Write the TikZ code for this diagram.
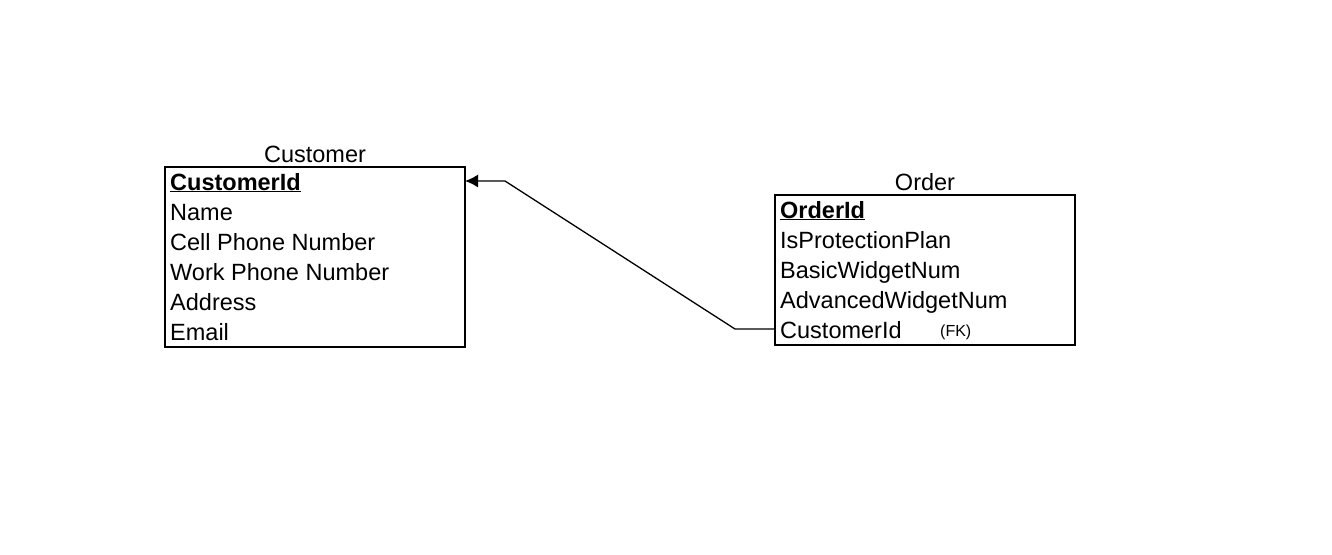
\documentclass[tikz,border=0pt]{standalone}
\usepackage{fontspec}
\setmainfont{Liberation Sans}
\usetikzlibrary{arrows.meta}
\tikzset{
  field/.style={anchor=base west, inner sep=0pt, font=\fontsize{23.5}{28}\selectfont},
  title/.style={anchor=base, inner sep=0pt, font=\fontsize{23.5}{28}\selectfont},
  tbl/.style={draw, line width=1.3pt},
  fk/.style={anchor=base west, inner sep=0pt, font=\fontsize{16}{19}\selectfont},
}
\begin{document}
\begin{tikzpicture}[x=1pt, y=-1pt]
      \useasboundingbox (0,0) rectangle (1332,554);
      % Customer
      \draw [tbl] (165,167) rectangle (465,347);
      \node [title] (custt) at (315,162) {Customer};
      \node [field] (cid) at (170,190) {\textbf{\underline{CustomerId}}};
      \node [field] (cname) at (170,220) {Name};
      \node [field] (ccell) at (170,250) {Cell Phone Number};
      \node [field] (cwork) at (170,280) {Work Phone Number};
      \node [field] (caddr) at (170,310) {Address};
      \node [field] (cmail) at (170,340) {Email};
      \coordinate (cend) at (465,181);
      % Order
      \draw [tbl] (775,195) rectangle (1075,345);
      \node [title] (ordt) at (925,190) {Order};
      \node [field] (oid) at (780,218) {\textbf{\underline{OrderId}}};
      \node [field] (oplan) at (780,248) {IsProtectionPlan};
      \node [field] (obasic) at (780,278) {BasicWidgetNum};
      \node [field] (oadv) at (780,308) {AdvancedWidgetNum};
      \node [field] (ocid) at (780,338) {CustomerId};
      \node [fk] (ofk) at (940,336) {(FK)};
      \coordinate (ostart) at (775,329);
      \coordinate (b1) at (735,329);
      \coordinate (b2) at (505,181);
      \draw [line width=1.3pt, -{Latex[length=13pt, width=13pt]}] (ostart) -- (b1) -- (b2) -- (cend);
    \end{tikzpicture}
\end{document}
